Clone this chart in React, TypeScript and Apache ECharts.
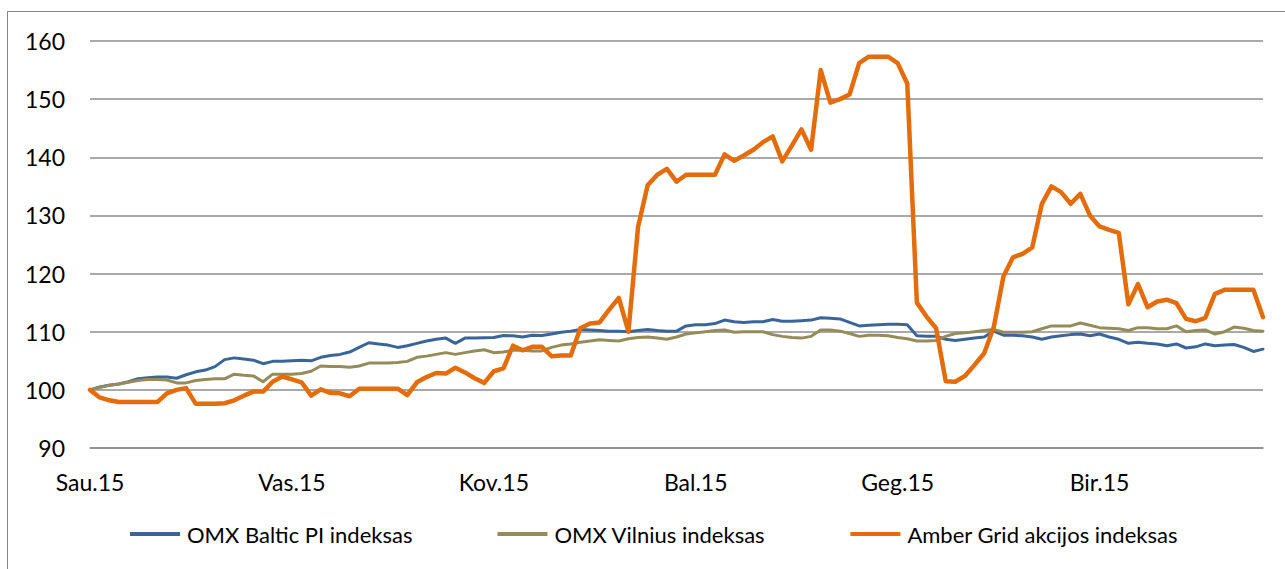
import React, { useEffect, useRef } from "react";
import * as echarts from "echarts";

const monthLabels = ["Sau.15", "Vas.15", "Kov.15", "Bal.15", "Geg.15", "Bir.15"];
const labelEvery = 21;
const pointCount = 123;
const categories: string[] = Array.from({ length: pointCount }, (_, i) => String(i));

const seriesNames = ["OMX Baltic PI indeksas", "OMX Vilnius indeksas", "Amber Grid akcijos indeksas"];

const balticPI = [
  100, 100.5, 100.8, 101.0, 101.4, 101.9, 102.1, 102.2, 102.2, 102.0,
  102.6, 103.1, 103.4, 104.0, 105.2, 105.5, 105.3, 105.1, 104.5, 104.9,
  104.9, 105.0, 105.1, 105.0, 105.6, 105.9, 106.1, 106.5, 107.3, 108.1,
  107.9, 107.7, 107.3, 107.6, 108.0, 108.4, 108.7, 108.9, 108.0, 108.9,
  108.9, 108.95, 109.0, 109.35, 109.3, 109.1, 109.4, 109.35, 109.6, 109.9,
  110.1, 110.4, 110.3, 110.2, 110.1, 110.1, 110.0, 110.2, 110.4, 110.2,
  110.1, 110.1, 111.0, 111.2, 111.2, 111.4, 112.0, 111.7, 111.6, 111.7,
  111.7, 112.1, 111.8, 111.8, 111.9, 112.0, 112.4, 112.3, 112.2, 111.6,
  111.0, 111.1, 111.2, 111.3, 111.3, 111.2, 109.3, 109.2, 109.2, 108.7,
  108.5, 108.7, 108.9, 109.1, 110.1, 109.4, 109.4, 109.3, 109.1, 108.7,
  109.1, 109.3, 109.5, 109.6, 109.3, 109.6, 109.1, 108.7, 108.0, 108.2,
  108.0, 107.9, 107.6, 107.9, 107.2, 107.4, 107.9, 107.6, 107.7, 107.8,
  107.3, 106.6, 107.0,
];

const vilnius = [
  100, 100.4, 100.8, 101.0, 101.3, 101.6, 101.8, 101.8, 101.7, 101.2,
  101.2, 101.6, 101.8, 101.9, 101.9, 102.7, 102.5, 102.4, 101.4, 102.7,
  102.7, 102.7, 102.8, 103.2, 104.1, 104.0, 104.0, 103.9, 104.1, 104.6,
  104.6, 104.6, 104.7, 104.9, 105.6, 105.8, 106.1, 106.4, 106.1, 106.4,
  106.7, 106.9, 106.4, 106.5, 106.8, 106.8, 106.7, 106.7, 107.3, 107.7,
  107.9, 108.2, 108.4, 108.6, 108.5, 108.4, 108.8, 109.0, 109.1, 108.9,
  108.7, 109.1, 109.6, 109.8, 110.0, 110.2, 110.3, 109.9, 110.0, 110.0,
  110.0, 109.5, 109.2, 109.0, 108.9, 109.2, 110.3, 110.3, 110.1, 109.7,
  109.2, 109.4, 109.4, 109.3, 109.0, 108.8, 108.4, 108.4, 108.5, 109.2,
  109.7, 109.8, 110.0, 110.2, 110.4, 109.9, 109.9, 109.9, 110.0, 110.5,
  111.0, 111.0, 111.0, 111.5, 111.1, 110.7, 110.6, 110.5, 110.2, 110.7,
  110.7, 110.5, 110.5, 111.0, 110.0, 110.2, 110.3, 109.6, 110.0, 110.8,
  110.6, 110.2, 110.1,
];

const amberGrid = [
  100, 98.7, 98.2, 97.9, 97.9, 97.9, 97.9, 97.9, 99.4, 100.0,
  100.3, 97.6, 97.6, 97.6, 97.7, 98.2, 99.0, 99.7, 99.7, 101.4,
  102.3, 101.8, 101.3, 99.0, 100.1, 99.5, 99.4, 98.9, 100.2, 100.2,
  100.2, 100.2, 100.2, 99.1, 101.3, 102.2, 102.9, 102.8, 103.8, 103.0,
  102.0, 101.2, 103.2, 103.7, 107.6, 106.8, 107.4, 107.4, 105.8, 105.9,
  105.9, 110.6, 111.4, 111.6, 113.8, 115.8, 110.0, 128.0, 135.2, 137.0,
  138.0, 135.8, 137.0, 137.0, 137.0, 137.0, 140.5, 139.4, 140.3, 141.3,
  142.6, 143.6, 139.3, 142.0, 144.8, 141.3, 155.0, 149.4, 150.0, 150.8,
  156.2, 157.3, 157.3, 157.3, 156.2, 152.7, 115.0, 112.6, 110.6, 101.5,
  101.4, 102.4, 104.3, 106.3, 110.8, 119.5, 122.8, 123.4, 124.5, 132.0,
  135.0, 134.0, 132.0, 133.7, 130.0, 128.1, 127.5, 127.0, 114.7, 118.2,
  114.2, 115.2, 115.5, 114.9, 112.2, 111.8, 112.4, 116.5, 117.2, 117.2,
  117.2, 117.2, 112.5,
];

const yTicks = { min: 90, max: 160, interval: 10 };
const colors = ["#3A6599", "#958C5A", "#E46C0A"];
const lineWidths = [3, 3, 4.5];

export default function App() {
  const ref = useRef<HTMLDivElement>(null);

  useEffect(() => {
    if (!ref.current) return;
    const chart = echarts.init(ref.current, null, { renderer: "svg" });
    const font = "Lato, 'Open Sans', sans-serif";
    const data = [balticPI, vilnius, amberGrid];
    chart.setOption({
      animation: false,
      textStyle: { fontFamily: font },
      grid: { left: 90, right: 22, top: 41, bottom: 121, containLabel: false },
      legend: {
        left: 125,
        top: 518,
        icon: "rect",
        itemWidth: 50,
        itemHeight: 4,
        itemGap: 85,
        textStyle: { fontFamily: font, fontSize: 22, color: "#000", padding: [0, 0, 0, 2] },
        data: seriesNames,
      },
      xAxis: {
        type: "category",
        data: categories,
        boundaryGap: false,
        axisLine: { show: true, lineStyle: { color: "#8c8c8c", width: 1.5 } },
        axisTick: { show: false },
        axisLabel: {
          interval: labelEvery - 1,
          margin: 22,
          fontFamily: font,
          fontSize: 23,
          color: "#000",
          formatter: (_v: string, idx: number) => monthLabels[Math.round(idx / labelEvery)] ?? "",
        },
        splitLine: { show: false },
      },
      yAxis: {
        type: "value",
        min: yTicks.min,
        max: yTicks.max,
        interval: yTicks.interval,
        axisLine: { show: false },
        axisTick: { show: false },
        axisLabel: { margin: 25, align: "right", fontFamily: font, fontSize: 23, color: "#000" },
        splitLine: { lineStyle: { color: "#8c8c8c", width: 1.5 } },
      },
      series: seriesNames.map((name, k) => ({
        name,
        type: "line",
        data: data[k],
        showSymbol: false,
        symbol: "none",
        color: colors[k],
        lineStyle: { color: colors[k], width: lineWidths[k], join: "round", cap: "round" },
        itemStyle: { color: colors[k] },
        z: k + 2,
      })),
    });
    return () => chart.dispose();
  }, []);

  return (
    <div style={{ position: "fixed", left: 0, top: 0, width: 1285, height: 569, overflow: "hidden", background: "#fff" }}>
      <div
        style={{
          position: "absolute",
          left: 7,
          top: 11,
          width: 1290,
          height: 570,
          borderLeft: "1px solid #868686",
          borderTop: "1px solid #868686",
          boxSizing: "border-box",
        }}
      />
      <div ref={ref} style={{ position: "absolute", left: 0, top: 0, width: 1285, height: 569 }} />
    </div>
  );
}
